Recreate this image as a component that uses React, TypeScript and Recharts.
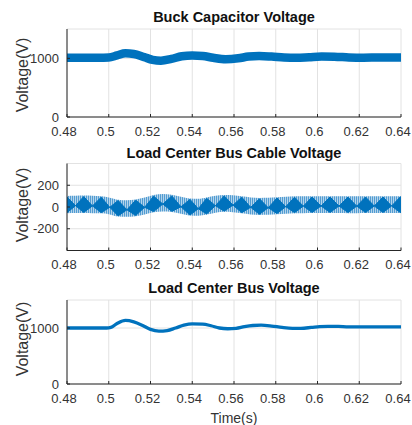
import React from 'react';
import { LineChart, ComposedChart, Line, Area, XAxis, YAxis, CartesianGrid } from 'recharts';

// time axis shared by all three panels
const xTicks = [0.48, 0.5, 0.52, 0.54, 0.56, 0.58, 0.6, 0.62, 0.64];

// panel 1: buck capacitor voltage (centre of the thick band)
const buckTime = [0.48, 0.495, 0.5, 0.504, 0.508, 0.512, 0.517, 0.521, 0.525, 0.53, 0.535, 0.54, 0.545, 0.55, 0.556, 0.562, 0.567, 0.572, 0.578, 0.584, 0.59, 0.596, 0.602, 0.608, 0.615, 0.622, 0.63, 0.64];
const buckVolt = [1012, 1012, 1015, 1050, 1085, 1075, 1020, 975, 960, 990, 1035, 1048, 1040, 1010, 985, 1000, 1030, 1040, 1030, 1015, 1010, 1020, 1030, 1028, 1015, 1010, 1015, 1015];

// panel 2: load center bus cable voltage, ripple envelope + dark beat diamonds
const cableTime = [0.48, 0.4841, 0.488, 0.4922, 0.4964, 0.5005, 0.5045, 0.5087, 0.5129, 0.5172, 0.5215, 0.5259, 0.5302, 0.5346, 0.5389, 0.5429, 0.5469, 0.5511, 0.5553, 0.5595, 0.5637, 0.568, 0.5722, 0.5764, 0.5806, 0.5848, 0.589, 0.5932, 0.5974, 0.6017, 0.606, 0.6103, 0.6146, 0.6188, 0.623, 0.6272, 0.6314, 0.6355, 0.6396, 0.64];
const rippleLow = [-58, -56, -55, -57, -58, -68, -87, -90, -85, -68, -48, -42, -46, -62, -78, -80, -70, -52, -44, -48, -58, -68, -73, -72, -66, -62, -58, -57, -56, -56, -56, -56, -57, -57, -56, -56, -56, -56, -56, -56];
const rippleHigh = [102, 104, 105, 103, 98, 86, 67, 62, 70, 88, 110, 120, 112, 94, 78, 76, 88, 104, 110, 108, 98, 88, 83, 84, 90, 94, 98, 99, 100, 100, 100, 100, 99, 99, 100, 100, 100, 100, 100, 100];
const beatLow = [-52, 12, -50, 10, -52, -3, -82, -26, -78, -3, -42, 27, -40, 2, -74, -16, -64, 12, -38, 17, -52, -3, -67, -7, -60, 3, -52, 8, -50, 9, -50, 9, -51, 8, -50, 9, -50, 9, -50, -50];
const beatHigh = [92, 12, 96, 10, 90, -3, 60, -26, 63, -3, 100, 27, 102, 2, 70, -16, 80, 12, 102, 17, 90, -3, 76, -7, 83, 3, 90, 8, 92, 9, 92, 9, 91, 8, 92, 9, 92, 9, 92, 92];

// panel 3: load center bus voltage
const busTime = [0.48, 0.499, 0.501, 0.504, 0.508, 0.512, 0.516, 0.52, 0.524, 0.528, 0.532, 0.536, 0.54, 0.545, 0.549, 0.553, 0.557, 0.561, 0.565, 0.569, 0.573, 0.578, 0.583, 0.588, 0.592, 0.597, 0.601, 0.605, 0.61, 0.615, 0.64];
const busVolt = [1000, 1000, 1010, 1080, 1135, 1110, 1050, 975, 945, 955, 1000, 1050, 1074, 1070, 1040, 1000, 987, 995, 1025, 1045, 1050, 1035, 1010, 995, 995, 1010, 1025, 1030, 1028, 1020, 1020];

const buckData = buckTime.map((t, i) => ({ t, v: buckVolt[i] }));
const cableData = cableTime.map((t, i) => ({ t, ripple: [rippleLow[i], rippleHigh[i]], beat: [beatLow[i], beatHigh[i]] }));
const busData = busTime.map((t, i) => ({ t, v: busVolt[i] }));

const FONT = '"Liberation Sans", Arial, Helvetica, sans-serif';
const BLUE = '#0072BD';
const tickStyle = { fontSize: 13, fill: '#333', fontFamily: FONT };
const axisDark = { stroke: '#262626' };
const frameLine = { stroke: '#9a9a9a' };

// x tick labels sit a little left of their tick, like in the matlab export
const TimeTick = ({ x, y, payload }: any) => (
  <text x={x - 3} y={y} dy="0.71em" textAnchor="middle" fontSize={13} fill="#333" fontFamily={FONT}>
    {String(payload.value)}
  </text>
);

const titleStyle = (top: number): React.CSSProperties => ({
  position: 'absolute', left: 67, width: 334, top, textAlign: 'center',
  fontFamily: FONT, fontWeight: 'bold', fontSize: 14.5, lineHeight: '14.5px', color: '#111',
});

const yLabelStyle = (cy: number): React.CSSProperties => ({
  position: 'absolute', left: 23, top: cy, transform: 'translate(-50%, -50%) rotate(-90deg)',
  fontFamily: FONT, fontSize: 16, lineHeight: '16px', color: '#333', whiteSpace: 'nowrap',
});

export default function App() {
  return (
    <div style={{ position: 'absolute', left: 0, top: 0, width: 412, height: 425, background: '#fff', overflow: 'hidden' }}>
      <div style={{ position: 'absolute', left: 0, top: 0 }}>
        <LineChart width={412} height={145} data={buckData} margin={{ top: 29, right: 11, bottom: 0, left: 27 }}>
          <CartesianGrid stroke="#e2e2e2" />
          <XAxis dataKey="t" type="number" domain={[0.48, 0.64]} ticks={xTicks} interval={0} height={28}
            tickSize={-3} tickMargin={12.5} axisLine={axisDark} tickLine={axisDark} tick={<TimeTick />} allowDataOverflow />
          <XAxis xAxisId="top" orientation="top" type="number" domain={[0.48, 0.64]} ticks={xTicks} interval={0}
            height={0} tick={false} tickSize={-3} axisLine={frameLine} tickLine={axisDark} />
          <YAxis type="number" domain={[0, 1500]} ticks={[0, 1000]} interval={0} width={40}
            tickSize={-3} tickMargin={11} axisLine={axisDark} tickLine={axisDark} tick={tickStyle} />
          <YAxis yAxisId="right" orientation="right" type="number" domain={[0, 1500]} ticks={[0, 1000]} interval={0}
            width={0} tick={false} tickSize={-3} axisLine={frameLine} tickLine={axisDark} />
          <Line dataKey="v" type="monotone" stroke={BLUE} strokeWidth={8.5} dot={false} isAnimationActive={false} />
        </LineChart>
      </div>

      <div style={{ position: 'absolute', left: 0, top: 140 }}>
        <ComposedChart width={412} height={135} data={cableData} margin={{ top: 23.5, right: 11, bottom: 0, left: 27 }}>
          <defs>
            <pattern id="ripple" width="2" height="10" patternUnits="userSpaceOnUse">
              <rect width="2" height="10" fill="#b3d3ea" />
              <rect width="0.8" height="10" fill="#3a8fcc" />
            </pattern>
          </defs>
          <CartesianGrid stroke="#e2e2e2" />
          <XAxis dataKey="t" type="number" domain={[0.48, 0.64]} ticks={xTicks} interval={0} height={24.5}
            tickSize={-3} tickMargin={12.5} axisLine={axisDark} tickLine={axisDark} tick={<TimeTick />} allowDataOverflow />
          <XAxis xAxisId="top" orientation="top" type="number" domain={[0.48, 0.64]} ticks={xTicks} interval={0}
            height={0} tick={false} tickSize={-3} axisLine={frameLine} tickLine={axisDark} />
          <YAxis type="number" domain={[-400, 400]} ticks={[-200, 0, 200]} interval={0} width={40}
            tickSize={-3} tickMargin={11} axisLine={axisDark} tickLine={axisDark} tick={tickStyle} />
          <YAxis yAxisId="right" orientation="right" type="number" domain={[-400, 400]} ticks={[-200, 0, 200]} interval={0}
            width={0} tick={false} tickSize={-3} axisLine={frameLine} tickLine={axisDark} />
          <Area dataKey="ripple" type="monotone" stroke="none" fill="url(#ripple)" fillOpacity={1} isAnimationActive={false} />
          <Area dataKey="beat" type="linear" stroke={BLUE} strokeWidth={1} fill={BLUE} fillOpacity={1} isAnimationActive={false} />
        </ComposedChart>
      </div>

      <div style={{ position: 'absolute', left: 0, top: 275 }}>
        <LineChart width={412} height={150} data={busData} margin={{ top: 25, right: 11, bottom: 0, left: 27 }}>
          <CartesianGrid stroke="#e2e2e2" />
          <XAxis dataKey="t" type="number" domain={[0.48, 0.64]} ticks={xTicks} interval={0} height={41}
            tickSize={-3} tickMargin={12.5} axisLine={axisDark} tickLine={axisDark} tick={<TimeTick />} allowDataOverflow />
          <XAxis xAxisId="top" orientation="top" type="number" domain={[0.48, 0.64]} ticks={xTicks} interval={0}
            height={0} tick={false} tickSize={-3} axisLine={frameLine} tickLine={axisDark} />
          <YAxis type="number" domain={[0, 1500]} ticks={[0, 1000]} interval={0} width={40}
            tickSize={-3} tickMargin={11} axisLine={axisDark} tickLine={axisDark} tick={tickStyle} />
          <YAxis yAxisId="right" orientation="right" type="number" domain={[0, 1500]} ticks={[0, 1000]} interval={0}
            width={0} tick={false} tickSize={-3} axisLine={frameLine} tickLine={axisDark} />
          <Line dataKey="v" type="monotone" stroke={BLUE} strokeWidth={3.3} dot={false} isAnimationActive={false} />
        </LineChart>
      </div>

      <div style={titleStyle(10)}>Buck Capacitor Voltage</div>
      <div style={titleStyle(145.5)}>Load Center Bus Cable Voltage</div>
      <div style={titleStyle(281.2)}>Load Center Bus Voltage</div>

      <div style={yLabelStyle(75)}>Voltage(V)</div>
      <div style={yLabelStyle(205)}>Voltage(V)</div>
      <div style={yLabelStyle(339)}>Voltage(V)</div>

      <div style={{ position: 'absolute', left: 67, width: 334, top: 410.6, textAlign: 'center', fontFamily: FONT, fontSize: 14, lineHeight: '14px', color: '#333' }}>
        Time(s)
      </div>
    </div>
  );
}
